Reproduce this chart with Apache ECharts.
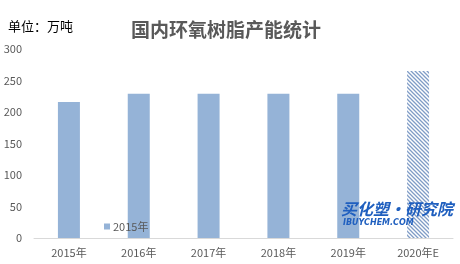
<!DOCTYPE html>
<html><head><meta charset="utf-8">
<script src="https://cdn.jsdelivr.net/npm/echarts@6/dist/echarts.min.js"></script>
<style>html,body{margin:0;padding:0;background:#fff}#c{width:460px;height:264px}</style>
</head><body><div id="c"></div>
<script>
const categories = ['2015年','2016年','2017年','2018年','2019年','2020年E'];
const capacity = [216, 229, 229, 229, 229, 265];
const seriesName = '2015年';
const titleText = '国内环氧树脂产能统计';
const unitText = '单位：万吨';

const pc = document.createElement('canvas');
pc.width = 4; pc.height = 4;
const g = pc.getContext('2d');
g.fillStyle = '#fff'; g.fillRect(0,0,4,4);
g.strokeStyle = '#7f9cc6'; g.lineWidth = 1.3;
g.beginPath();
g.moveTo(-1,-1); g.lineTo(5,5);
g.moveTo(-3,1); g.lineTo(3,7);
g.moveTo(1,-3); g.lineTo(7,3);
g.stroke();

const font = '"Noto Sans CJK SC", sans-serif';
const chart = echarts.init(document.getElementById('c'), null, {renderer:'canvas'});
chart.setOption({
  animation:false,
  textStyle:{fontFamily:font},
  grid:{left:34, right:7, top:49, bottom:26, containLabel:false},
  title:{text:titleText, left:221, top:15, textAlign:'center',
    textStyle:{fontSize:19, fontWeight:'bold', color:'#595959', fontFamily:font}},
  legend:{data:[seriesName], left:99, top:216, itemWidth:6, itemHeight:6, itemGap:4,
    icon:'rect', textStyle:{fontSize:11, color:'#595959', fontFamily:font, padding:[0,0,0,-2]}},
  xAxis:{type:'category', data:categories,
    axisLine:{lineStyle:{color:'#d9d9d9'}}, axisTick:{show:false},
    axisLabel:{color:'#595959', fontSize:11, margin:9, interval:0}},
  yAxis:{type:'value', min:0, max:300, interval:50,
    axisLine:{show:false}, axisTick:{show:false}, splitLine:{show:false},
    axisLabel:{color:'#595959', fontSize:11, margin:12}},
  graphic:[
    {type:'text', left:8, top:20, style:{text:unitText, fontSize:13, fill:'#000', fontFamily:font}},
    {type:'text', left:341, top:201, z:100, style:{text:'买化塑·研究院', fontSize:16, fontWeight:'bold', fontStyle:'italic', fill:'#1f5fbf', fontFamily:font}},
    {type:'text', left:343, top:219, z:100, style:{text:'IBUYCHEM.COM', fontSize:8, fontWeight:'bold', fontStyle:'italic', fill:'#1f5fbf', fontFamily:'DejaVu Sans'}}
  ],
  series:[{name:seriesName, type:'bar', barWidth:22,
    itemStyle:{color:'#95b3d7'},
    data:capacity.map((v,i)=> i===capacity.length-1 ? {value:v, itemStyle:{color:{image:pc, repeat:'repeat'}}} : v)
  }]
});
</script></body></html>
